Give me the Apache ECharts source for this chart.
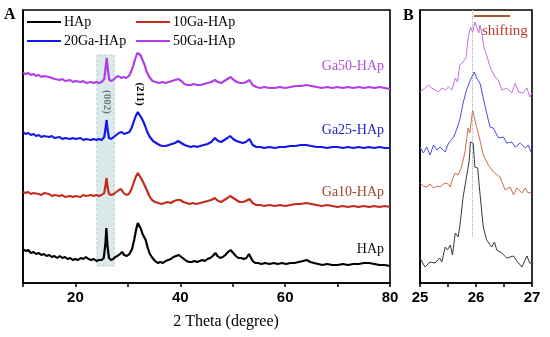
<!DOCTYPE html>
<html><head><meta charset="utf-8">
<script src="https://cdn.jsdelivr.net/npm/echarts@6/dist/echarts.min.js"></script>
<style>html,body{margin:0;padding:0;background:#fff}#c{width:550px;height:337px}</style>
</head><body><div id="c"></div>
<script>
// ---- Panel A: full-range XRD patterns (stacked, arbitrary intensity units) ----
const seriesNames = ['HAp', '10Ga-HAp', '20Ga-HAp', '50Ga-HAp'];
const curveLabels = ['HAp', 'Ga10-HAp', 'Ga25-HAp', 'Ga50-HAp'];
const xTicksA = [20, 40, 60, 80];
const xTicksB = [25, 26, 27];

const hapA = [[10,34],[10.5,32],[11,33],[11.5,30],[12,31],[12.5,29],[13,30],[13.5,28],[14,29],[14.5,27],[15,28],[15.5,26],[16,27],[16.5,25],[17,27],[17.5,25],[18,26],[18.5,24],[19,25],[19.5,23],[20,24],[20.5,23],[21,25],[21.5,24],[22,26],[22.5,24],[23,23],[23.5,24],[24,22],[24.5,23],[25,23],[25.4,25],[25.7,38],[25.9,55],[26.1,38],[26.4,25],[26.8,23],[27.2,24],[27.6,26],[28,27],[28.5,29],[28.9,31],[29.3,28],[29.8,27],[30.3,29],[30.8,34],[31.2,43],[31.6,54],[31.9,60],[32.2,59],[32.5,54],[32.8,49],[33.1,49],[33.4,43],[33.8,35],[34.2,29],[34.7,25],[35.2,22],[35.7,20],[36.2,21],[36.7,20],[37.2,22],[37.7,23],[38.2,24],[38.7,26],[39.2,27],[39.7,28],[40.2,26],[40.7,24],[41.2,22],[41.7,21],[42.2,21],[42.7,22],[43.2,21],[43.7,22],[44.2,23],[44.7,22],[45.2,24],[45.7,25],[46.2,27],[46.7,30],[47.1,27],[47.6,25],[48.1,26],[48.6,28],[49.1,31],[49.6,33],[50.1,30],[50.6,27],[51.1,25],[51.6,25],[52.1,24],[52.6,25],[53.1,29],[53.4,28],[53.8,22],[54.3,20],[54.8,20],[55.5,19],[56.2,20],[57,19],[57.8,20],[58.6,19],[59.4,20],[60.2,19],[61,20],[61.8,20],[62.6,21],[63.4,22],[64.1,23],[64.8,21],[65.5,20],[66.3,19],[67.1,18],[68,19],[69,18],[70,18],[71,19],[72,18],[73,19],[74,19],[75,20],[76,20],[77,19],[78,18],[79,18],[80,17]];

const ga10A = [[10,91],[10.5,90],[11,91],[11.5,89],[12,90],[13,89],[13.5,88],[14,90],[15,89],[15.5,87],[16,88],[17,87],[17.5,88],[18,86],[19,87],[19.5,86],[20,87],[21,86],[21.5,88],[22,87],[23,88],[23.5,87],[24,88],[24.5,87],[25,88],[25.5,90],[25.8,100],[25.95,105],[26.1,97],[26.4,89],[26.8,88],[27.3,89],[27.8,91],[28.3,93],[28.7,94],[29.2,90],[29.7,88],[30.2,89],[30.7,94],[31.1,100],[31.5,106],[31.9,110],[32.2,109],[32.5,105],[32.9,101],[33.2,99],[33.6,93],[34.1,87],[34.6,83],[35.2,81],[35.8,80],[36.4,79],[37,80],[37.6,81],[38.2,80],[38.8,82],[39.4,83],[40,83],[40.6,81],[41.2,80],[41.8,79],[42.4,80],[43,79],[43.8,80],[44.5,81],[45.2,82],[45.9,83],[46.6,85],[47.2,82],[47.8,81],[48.4,83],[49,85],[49.5,87],[50.1,85],[50.7,83],[51.3,81],[51.9,81],[52.5,82],[53.2,84],[53.8,80],[54.5,78],[55.3,78],[56,77],[57,78],[58,77],[59,78],[60,77],[61,78],[62,79],[63,79],[64,80],[65,79],[66,78],[67,77],[68,78],[69,77],[70,76],[71,77],[72,76],[73,77],[74,76],[75,77],[76,76],[77,77],[78,76],[79,77],[80,76]];

const ga20A = [[10,151],[10.5,149],[11,150],[11.5,148],[12,149],[12.5,147],[13,148],[13.5,146],[14,147],[15,146],[15.5,147],[16,145],[17,146],[17.5,144],[18,145],[19,144],[19.5,145],[20,144],[21,145],[21.5,143],[22,144],[23,143],[23.5,144],[24,143],[24.5,144],[25,143],[25.5,146],[25.75,155],[25.95,163],[26.15,153],[26.4,145],[26.8,144],[27.3,146],[27.8,148],[28.3,150],[28.8,151],[29.3,149],[29.8,150],[30.3,151],[30.7,155],[31.1,161],[31.5,167],[31.9,171],[32.2,170],[32.5,166],[32.9,162],[33.3,157],[33.7,151],[34.2,146],[34.8,142],[35.4,140],[36,138],[36.6,137],[37.2,137],[37.8,138],[38.4,139],[39,140],[39.6,142],[40.2,140],[40.8,138],[41.4,137],[42,136],[42.6,137],[43.2,136],[43.8,137],[44.5,138],[45.2,139],[45.9,141],[46.6,145],[47.2,142],[47.8,141],[48.4,143],[49,145],[49.5,147],[50.1,144],[50.7,142],[51.3,141],[51.9,140],[52.5,141],[53.2,144],[53.8,138],[54.5,136],[55.3,136],[56,135],[57,136],[58,135],[59,136],[60,136],[61,137],[62,137],[63,138],[64,138],[65,137],[66,136],[67,136],[68,135],[69,136],[70,136],[71,135],[72,136],[73,135],[74,136],[75,135],[76,136],[77,135],[78,136],[79,135],[80,135]];

const ga50A = [[10,210],[10.5,209],[11,210],[11.5,208],[12,209],[12.5,207],[13,208],[13.5,206],[14,207],[15,206],[15.5,205],[16,204],[17,203],[17.5,204],[18,202],[19,203],[19.5,201],[20,202],[21,201],[21.5,202],[22,200],[23,201],[23.5,200],[24,201],[24.5,200],[25,201],[25.5,204],[25.75,215],[25.98,225],[26.2,213],[26.45,203],[26.9,202],[27.4,204],[27.8,206],[28.2,207],[28.7,205],[29.2,206],[29.7,205],[30.2,207],[30.6,211],[31,217],[31.4,224],[31.8,230],[32.1,231],[32.4,228],[32.8,223],[33.2,218],[33.6,211],[34.1,206],[34.7,202],[35.3,201],[36,200],[36.6,201],[37.2,200],[37.8,201],[38.4,202],[39,203],[39.6,204],[40.2,202],[40.8,199],[41.4,198],[42,198],[42.6,199],[43.2,198],[43.8,198],[44.5,199],[45.2,200],[45.9,201],[46.6,203],[47.2,201],[47.8,200],[48.4,202],[49,204],[49.6,206],[50.2,203],[50.8,201],[51.4,200],[52,200],[52.6,201],[53.2,203],[53.8,198],[54.5,196],[55.3,195],[56,196],[57,195],[58,195],[59,196],[60,195],[61,196],[62,197],[63,197],[64,198],[65,197],[66,196],[67,195],[68,196],[69,195],[70,196],[71,195],[72,196],[73,195],[74,196],[75,195],[76,196],[77,195],[78,196],[79,195],[80,194]];

// ---- Panel B: zoom on the (002) reflection ----
const hapB = [[25.00,25],[25.09,16],[25.18,21],[25.27,20],[25.35,25],[25.39,21],[25.45,36],[25.49,33],[25.54,38],[25.58,28],[25.63,50],[25.68,46],[25.71,56],[25.77,86],[25.83,106],[25.88,123],[25.90,141],[25.95,140],[25.98,116],[26.03,115],[26.07,90],[26.13,56],[26.19,43],[26.28,36],[26.33,41],[26.37,33],[26.46,30],[26.55,25],[26.67,27],[26.73,22],[26.82,16],[26.91,27],[26.96,20],[27.00,20]];
const ga10B = [[25.00,100],[25.06,97],[25.12,96],[25.18,99],[25.24,95],[25.30,97],[25.36,96],[25.42,99],[25.48,100],[25.54,96],[25.58,104],[25.63,110],[25.68,108],[25.74,116],[25.80,130],[25.86,155],[25.89,150],[25.94,173],[26.01,156],[26.07,143],[26.13,128],[26.22,118],[26.31,111],[26.38,108],[26.43,106],[26.52,93],[26.61,96],[26.67,88],[26.73,95],[26.82,90],[26.88,95],[26.93,90],[26.99,91]];
const ga20B = [[25.00,136],[25.06,130],[25.12,136],[25.18,128],[25.24,138],[25.30,133],[25.36,136],[25.45,131],[25.51,140],[25.60,146],[25.65,153],[25.71,163],[25.77,180],[25.83,193],[25.90,203],[25.97,211],[26.01,205],[26.07,200],[26.13,185],[26.19,170],[26.25,156],[26.31,155],[26.40,145],[26.49,146],[26.55,140],[26.64,141],[26.70,136],[26.79,140],[26.88,135],[26.93,138],[26.99,130]];
const ga50B = [[25.00,191],[25.09,195],[25.15,198],[25.21,195],[25.27,193],[25.33,191],[25.39,195],[25.45,193],[25.51,196],[25.57,193],[25.63,205],[25.67,201],[25.71,218],[25.77,221],[25.82,225],[25.86,245],[25.90,256],[25.94,251],[25.98,261],[26.01,263],[26.05,250],[26.07,258],[26.10,251],[26.14,236],[26.19,228],[26.25,216],[26.34,206],[26.40,203],[26.46,193],[26.55,195],[26.64,190],[26.70,200],[26.76,191],[26.84,190],[26.91,195],[26.96,186],[27.00,190]];

const peakPosition = 25.93;           // (002) reference line in panel B
const peakBand = [24.1, 27.4];        // shaded (002) band in panel A
const yMax = 273;

const colorsA = ['#000000', '#c42c1e', '#1616ea', '#b03ee6'];
const colorsB = ['#3a3a3a', '#cd6a4a', '#4b4be6', '#c46ee6'];
const labelColors = ['#111111', '#a3452a', '#2323c8', '#b44ee0'];

const dataA = [hapA, ga10A, ga20A, ga50A];
const dataB = [hapB, ga10B, ga20B, ga50B];

const serif = '"Liberation Serif", "Times New Roman", serif';
const sans = '"Liberation Sans", Arial, sans-serif';

const series = [];
dataA.forEach((d, i) => series.push({
  name: seriesNames[i], type: 'line', xAxisIndex: 0, yAxisIndex: 0, data: d,
  showSymbol: false, symbol: 'none', lineStyle: { color: colorsA[i], width: 2.2 }, itemStyle: { color: colorsA[i] },
  z: 2, silent: true, animation: false
}));
dataB.forEach((d, i) => series.push({
  name: seriesNames[i], type: 'line', xAxisIndex: 1, yAxisIndex: 1, data: d,
  showSymbol: false, symbol: 'none', lineStyle: { color: colorsB[i], width: 1 }, itemStyle: { color: colorsA[i] },
  z: 2, silent: true, animation: false
}));
// shaded band over the (002) peak in A
series.push({
  type: 'line', xAxisIndex: 0, yAxisIndex: 0, data: [], z: 5, silent: true, animation: false,
  markArea: { silent: true, itemStyle: { color: 'rgba(185,212,216,0.5)', borderColor: '#b0c4c8', borderWidth: 0.8, borderType: 'dashed' },
    data: [[{ coord: [peakBand[0], 17] }, { coord: [peakBand[1], 228] }]] }
});
// dotted reference line in B
series.push({
  type: 'line', xAxisIndex: 1, yAxisIndex: 1, data: [], z: 5, silent: true, animation: false,
  markLine: { silent: true, symbol: 'none', label: { show: false },
    lineStyle: { color: '#aaa', type: 'dotted', width: 1 },
    data: [[{ coord: [peakPosition, 46] }, { coord: [peakPosition, yMax] }]] }
});

const axisLine = { show: true, onZero: false, lineStyle: { color: '#000', width: 1.6 } };
const option = {
  animation: false,
  backgroundColor: '#fff',
  grid: [
    { left: 23, right: 160, top: 10, bottom: 54, show: true, borderColor: '#000', borderWidth: 1.6 },
    { left: 420, right: 18, top: 10, bottom: 54, show: true, borderColor: '#000', borderWidth: 1.6 }
  ],
  xAxis: [
    { type: 'value', gridIndex: 0, min: 10, max: 80, interval: 10, axisLine,
      axisTick: { show: true, inside: false, length: 4, lineStyle: { color: '#000', width: 1.5 } },
      axisLabel: { margin: 7, color: '#000', fontFamily: sans, fontWeight: 'bold', fontSize: 15,
        formatter: v => xTicksA.includes(v) ? String(v) : '' },
      splitLine: { show: false } },
    { type: 'value', gridIndex: 1, min: 25, max: 27, interval: 0.5, axisLine,
      axisTick: { show: true, inside: false, length: 4, lineStyle: { color: '#000', width: 1.5 } },
      axisLabel: { margin: 7, color: '#000', fontFamily: sans, fontWeight: 'bold', fontSize: 15,
        formatter: v => xTicksB.includes(v) ? String(v) : '' },
      splitLine: { show: false } }
  ],
  yAxis: [
    { type: 'value', gridIndex: 0, min: 0, max: yMax, axisLine, axisTick: { show: false }, axisLabel: { show: false }, splitLine: { show: false } },
    { type: 'value', gridIndex: 1, min: 0, max: yMax, axisLine, axisTick: { show: false }, axisLabel: { show: false }, splitLine: { show: false } }
  ],
  legend: [
    { data: [seriesNames[0], seriesNames[2]], orient: 'vertical', left: 22, top: 10, itemWidth: 34, itemHeight: 2, itemGap: 5,
      icon: 'rect', textStyle: { fontFamily: serif, fontSize: 14, color: '#000', padding: [0, 0, 0, -2] }, selectedMode: false },
    { data: [seriesNames[1], seriesNames[3]], orient: 'vertical', left: 131, top: 10, itemWidth: 34, itemHeight: 2, itemGap: 5,
      icon: 'rect', textStyle: { fontFamily: serif, fontSize: 14, color: '#000', padding: [0, 0, 0, -2] }, selectedMode: false }
  ],
  series,
  graphic: [
    { type: 'text', left: 4, top: 7, style: { text: 'A', font: 'bold 16px ' + serif, fill: '#000' } },
    { type: 'text', left: 403, top: 8, style: { text: 'B', font: 'bold 16px ' + serif, fill: '#000' } },
    { type: 'text', x: 226, y: 322, style: { text: '2 Theta (degree)', font: '16px ' + serif, fill: '#000', align: 'center', verticalAlign: 'middle' } },
    { type: 'text', x: 384, y: 66, style: { text: curveLabels[3], font: '14px ' + serif, fill: labelColors[3], align: 'right', verticalAlign: 'middle' } },
    { type: 'text', x: 384, y: 130, style: { text: curveLabels[2], font: '14px ' + serif, fill: labelColors[2], align: 'right', verticalAlign: 'middle' } },
    { type: 'text', x: 384, y: 192, style: { text: curveLabels[1], font: '14px ' + serif, fill: labelColors[1], align: 'right', verticalAlign: 'middle' } },
    { type: 'text', x: 384, y: 249, style: { text: curveLabels[0], font: '14px ' + serif, fill: labelColors[0], align: 'right', verticalAlign: 'middle' } },
    { type: 'text', x: 107, y: 102, rotation: -Math.PI / 2, style: { text: '(002)', font: 'bold 11px ' + serif, fill: '#222', align: 'center', verticalAlign: 'middle' } },
    { type: 'text', x: 140, y: 94, rotation: -Math.PI / 2, style: { text: '(211)', font: 'bold 11px ' + serif, fill: '#000', align: 'center', verticalAlign: 'middle' } },
    { type: 'line', shape: { x1: 474, y1: 16, x2: 510, y2: 16 }, style: { stroke: '#a8582a', lineWidth: 2 } },
    { type: 'text', x: 482, y: 31, style: { text: 'shifting', font: '15px ' + serif, fill: '#c0392b', align: 'left', verticalAlign: 'middle' } }
  ]
};
const chart = echarts.init(document.getElementById('c'), null, { renderer: 'canvas' });
chart.setOption(option);
</script>
</body></html>
